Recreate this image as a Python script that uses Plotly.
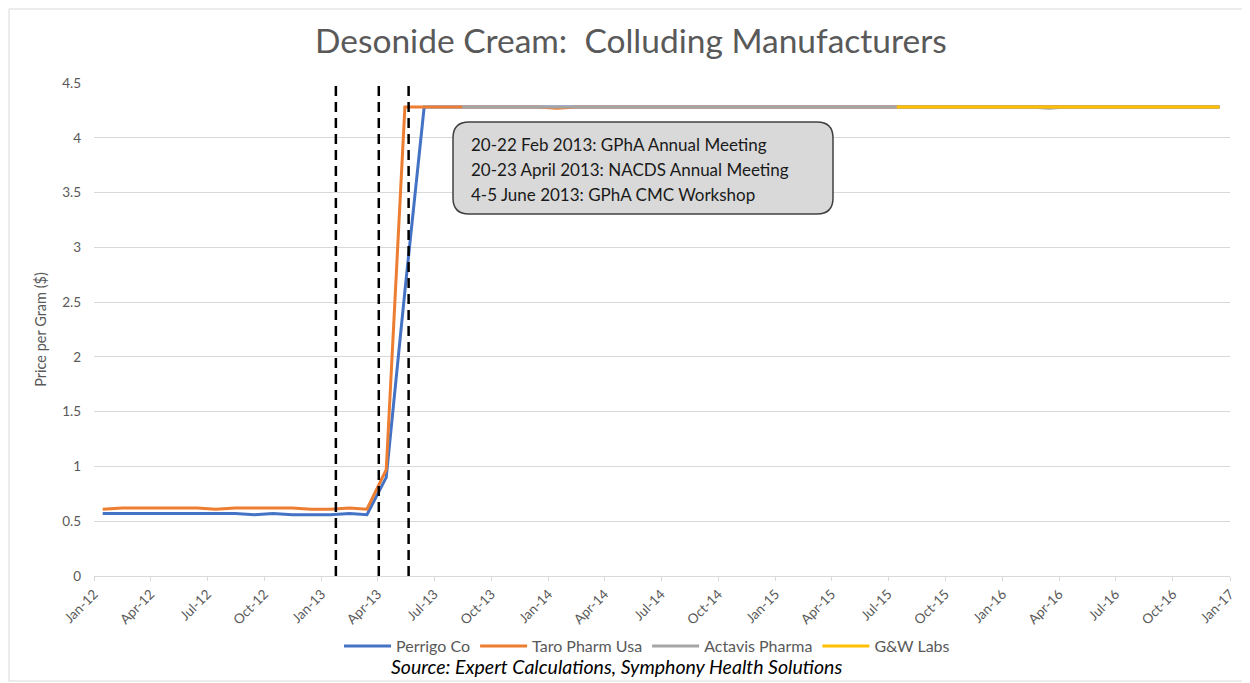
import pandas as pd
import plotly.graph_objects as go

# ---------------- data ----------------
months = pd.date_range("2012-01-01", "2016-12-01", freq="MS")  # Jan-12 .. Dec-16 (60 months)

perrigo = [0.57, 0.57, 0.57, 0.57, 0.57, 0.57, 0.57, 0.57, 0.56, 0.57, 0.56, 0.56,
           0.56, 0.57, 0.56, 0.90, 2.60, 4.28, 4.28, 4.28, 4.28, 4.28, 4.28, 4.28,
           4.28, 4.28, 4.28, 4.28, 4.28, 4.28, 4.28, 4.28, 4.28, 4.28, 4.28, 4.28,
           4.28, 4.28, 4.28, 4.28, 4.28, 4.28, 4.28, 4.28, 4.28, 4.28, 4.28, 4.28,
           4.28, 4.28, 4.28, 4.28, 4.28, 4.28, 4.28, 4.28, 4.28, 4.28, 4.28, 4.28]

taro = [0.61, 0.62, 0.62, 0.62, 0.62, 0.62, 0.61, 0.62, 0.62, 0.62, 0.62, 0.61,
        0.61, 0.62, 0.61, 0.97, 4.28, 4.28, 4.28, 4.28, 4.28, 4.28, 4.28, 4.28,
        4.27, 4.28, 4.28, 4.28, 4.28, 4.28, 4.28, 4.28, 4.28, 4.28, 4.28, 4.28,
        4.28, 4.28, 4.28, 4.28, 4.28, 4.28, 4.28, 4.28, 4.28, 4.28, 4.28, 4.28,
        4.28, 4.28, 4.28, 4.28, 4.28, 4.28, 4.28, 4.28, 4.28, 4.28, 4.28, 4.28]

actavis = [None, None, None, None, None, None, None, None, None, None, None, None,
           None, None, None, None, None, None, None, 4.28, 4.28, 4.28, 4.28, 4.28,
           4.28, 4.28, 4.28, 4.28, 4.28, 4.28, 4.28, 4.28, 4.28, 4.28, 4.28, 4.28,
           4.28, 4.28, 4.28, 4.28, 4.28, 4.28, 4.28, 4.28, 4.28, 4.28, 4.28, 4.28,
           4.28, 4.28, 4.27, 4.28, 4.28, 4.28, 4.28, 4.28, 4.28, 4.28, 4.28, 4.28]

gw = [None, None, None, None, None, None, None, None, None, None, None, None,
      None, None, None, None, None, None, None, None, None, None, None, None,
      None, None, None, None, None, None, None, None, None, None, None, None,
      None, None, None, None, None, None, 4.28, 4.28, 4.28, 4.28, 4.28, 4.28,
      4.28, 4.28, 4.28, 4.28, 4.28, 4.28, 4.28, 4.28, 4.28, 4.28, 4.28, 4.28]

series_names = ["Perrigo Co", "Taro Pharm Usa", "Actavis Pharma", "G&W Labs"]
series_values = [perrigo, taro, actavis, gw]
series_colors = ["#4472C4", "#ED7D31", "#A5A5A5", "#FFC000"]

meeting_dates = ["2013-01-24", "2013-04-03", "2013-05-21"]
meeting_text = ["20-22 Feb 2013: GPhA Annual Meeting",
                "20-23 April 2013: NACDS Annual Meeting",
                "4-5 June 2013: GPhA CMC Workshop"]

tick_dates = pd.date_range("2012-01-01", "2017-01-01", freq="QS")

# ---------------- figure ----------------
FONT = "Lato, 'Open Sans', sans-serif"
GREY = "#595959"
PAGE_W, PAGE_H = 1250, 683
OFF = 8                                   # default body margin of the html page
W, H = PAGE_W - OFF, PAGE_H - OFF
PX0, PX1, PY_TOP, PY_BOT = 94, 1230, 83, 576  # plot area in page pixels
L, R, T, B = PX0 - OFF, PAGE_W - PX1, PY_TOP - OFF, PAGE_H - PY_BOT
PW, PH = PX1 - PX0, PY_BOT - PY_TOP

def px(x):
    return (x - PX0) / PW

def py(y):
    return (PY_BOT - y) / PH

x_mid = months + pd.Timedelta(days=14)

fig = go.Figure()
for name, vals, col in zip(series_names, series_values, series_colors):
    fig.add_trace(go.Scatter(x=x_mid, y=vals, name=name, mode="lines",
                             line=dict(color=col, width=3), connectgaps=False))

shapes = []
for d in meeting_dates:
    shapes.append(dict(type="line", xref="x", yref="paper", x0=d, x1=d, y0=0, y1=0.995,
                       line=dict(color="black", width=2.5, dash="10px,6px"), layer="above"))

# rounded annotation box (pixel geometry converted to paper coords)
bx0, bx1, by0, by1, r = 453, 833, 122, 214, 16
path = (f"M {px(bx0 + r)} {py(by0)} L {px(bx1 - r)} {py(by0)} "
        f"Q {px(bx1)} {py(by0)} {px(bx1)} {py(by0 + r)} "
        f"L {px(bx1)} {py(by1 - r)} Q {px(bx1)} {py(by1)} {px(bx1 - r)} {py(by1)} "
        f"L {px(bx0 + r)} {py(by1)} Q {px(bx0)} {py(by1)} {px(bx0)} {py(by1 - r)} "
        f"L {px(bx0)} {py(by0 + r)} Q {px(bx0)} {py(by0)} {px(bx0 + r)} {py(by0)} Z")
shapes.append(dict(type="path", xref="paper", yref="paper", path=path,
                   fillcolor="#D9D9D9", line=dict(color="#404040", width=1.5), layer="above"))

# outer chart border
shapes.append(dict(type="rect", xref="paper", yref="paper",
                   x0=px(9), x1=px(1247), y0=py(681), y1=py(9),
                   line=dict(color="#D9D9D9", width=1), fillcolor="rgba(0,0,0,0)"))

annotations = []
for i, t in enumerate(meeting_text):
    annotations.append(dict(xref="paper", yref="paper", x=px(469), y=py(144 + 25 * i),
                            xanchor="left", yanchor="middle", showarrow=False, text=t,
                            font=dict(family=FONT, size=17, color="#1a1a1a")))
annotations.append(dict(xref="paper", yref="paper", x=px(616), y=py(666),
                        xanchor="center", yanchor="middle", showarrow=False,
                        text="<i>Source: Expert Calculations, Symphony Health Solutions</i>",
                        font=dict(family=FONT, size=19.5, color="black")))
annotations.append(dict(xref="paper", yref="paper", x=px(631), y=py(40),
                        xanchor="center", yanchor="middle", showarrow=False,
                        text="Desonide Cream:  Colluding Manufacturers",
                        font=dict(family=FONT, size=33.5, color=GREY)))

fig.update_layout(
    width=W, height=H,
    margin=dict(l=L, r=R, t=T, b=B, autoexpand=False),
    paper_bgcolor="white", plot_bgcolor="white",
    font=dict(family=FONT, color=GREY),
    showlegend=True,
    legend=dict(orientation="h", x=px(339), xanchor="left", y=py(646), yanchor="middle",
                font=dict(family=FONT, size=16, color=GREY), itemwidth=47,
                bgcolor="rgba(0,0,0,0)", traceorder="normal"),
    shapes=shapes, annotations=annotations,
    xaxis=dict(type="date", range=["2012-01-01", "2017-01-01"],
               tickvals=tick_dates, tickformat="%b-%y", tickangle=-45,
               tickfont=dict(family=FONT, size=13.5, color=GREY),
               showgrid=False, showline=True, linecolor="#D9D9D9", linewidth=1,
               ticks="outside", ticklen=4, tickcolor="#D9D9D9", zeroline=False),
    yaxis=dict(range=[0, 4.5], dtick=0.5, tickformat="~g",
               tickfont=dict(family=FONT, size=13.5, color=GREY),
               showgrid=True, gridcolor="#D9D9D9", gridwidth=1,
               showline=False, zeroline=False, ticks="", ticklabelstandoff=12,
               title=dict(text="Price per Gram ($)", font=dict(family=FONT, size=14.5, color=GREY),
                          standoff=12)),
)

fig.write_html("out.html")
